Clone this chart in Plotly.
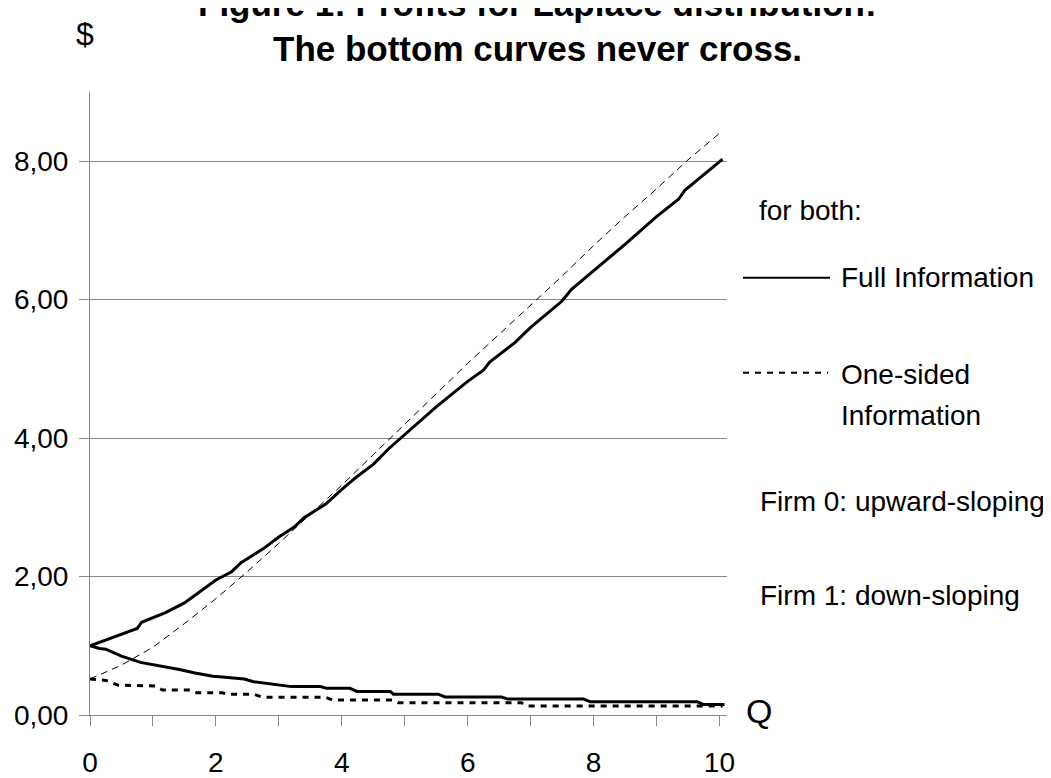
import plotly.graph_objects as go

# ---------------- data ----------------
x_ticks = [0, 1, 2, 3, 4, 5, 6, 7, 8, 9, 10]
x_tick_labels = ["0", "", "2", "", "4", "", "6", "", "8", "", "10"]
y_ticks = [0, 2, 4, 6, 8]
y_tick_labels = ["0,00", "2,00", "4,00", "6,00", "8,00"]

# Firm 0, full information (upward-sloping, solid)
firm0_full_x = [0, 0.75, 0.82, 1.2, 1.5, 1.75, 2.0, 2.25, 2.4, 2.75, 3.0, 3.25, 3.4, 3.75, 4.0,
                4.25, 4.5, 4.75, 5.0, 5.5, 6.0, 6.25, 6.35, 6.75, 7.0, 7.5, 7.65, 8.0, 8.5, 9.0,
                9.35, 9.45, 9.75, 10.05]
firm0_full_y = [1.0, 1.25, 1.34, 1.48, 1.62, 1.78, 1.95, 2.07, 2.2, 2.4, 2.57, 2.72, 2.85, 3.05, 3.26,
                3.45, 3.62, 3.85, 4.05, 4.45, 4.82, 4.98, 5.1, 5.38, 5.6, 5.98, 6.15, 6.42, 6.8, 7.2,
                7.45, 7.58, 7.8, 8.03]

# Firm 0, one-sided information (upward-sloping, thin dashed)
firm0_one_x = [0, 0.5, 1.0, 1.5, 2.0, 2.5, 3.0, 3.5, 4.0, 4.5, 5.0, 5.5, 6.0, 6.5, 7.0, 7.5, 8.0,
               8.5, 9.0, 9.5, 10.05]
firm0_one_y = [0.52, 0.72, 0.98, 1.32, 1.68, 2.07, 2.48, 2.9, 3.32, 3.76, 4.2, 4.64, 5.08, 5.5, 5.92,
               6.34, 6.78, 7.2, 7.6, 8.02, 8.44]

# Firm 1, full information (down-sloping, solid)
firm1_full_x = [0, 0.15, 0.25, 0.5, 0.8, 1.1, 1.25, 1.4, 1.65, 1.95, 2.1, 2.3, 2.45, 2.6, 2.9, 3.2,
                3.66, 3.76, 4.13, 4.24, 4.77, 4.82, 5.53, 5.64, 6.54, 6.64, 7.84, 7.95, 9.65, 9.75,
                10.08]
firm1_full_y = [1.0, 0.96, 0.95, 0.85, 0.76, 0.71, 0.69, 0.66, 0.61, 0.56, 0.55, 0.53, 0.52, 0.48, 0.45,
                0.41, 0.41, 0.385, 0.385, 0.34, 0.34, 0.30, 0.30, 0.26, 0.26, 0.23, 0.23, 0.19, 0.19,
                0.15, 0.15]

# Firm 1, one-sided information (down-sloping, dotted)
firm1_one_x = [0, 0.25, 0.45, 1.05, 1.15, 1.6, 1.7, 2.1, 2.2, 2.6, 2.75, 3.75, 3.85, 4.8, 4.9,
               6.85, 6.95, 10.05]
firm1_one_y = [0.52, 0.50, 0.43, 0.42, 0.36, 0.36, 0.32, 0.32, 0.30, 0.30, 0.255, 0.255, 0.215, 0.215,
               0.178, 0.178, 0.13, 0.13]

title_line1 = "Figure 1: Profits for Laplace distribution:"
title_line2 = "The bottom curves never cross."
legend_texts = ["for both:", "Full Information", "One-sided", "Information",
                "Firm 0: upward-sloping", "Firm 1: down-sloping"]

# ---------------- figure ----------------
FONT = "Liberation Sans, Arial, sans-serif"
OFF = 8                      # page body margin offset
PL, PR, PT, PB = 90, 727, 92, 715   # plot area in page pixels
W, H = 1051 - OFF, 778 - OFF


def px(x):
    return (x - PL) / (PR - PL)


def py(y):
    return (PB - y) / (PB - PT)


fig = go.Figure()
fig.add_trace(go.Scatter(x=firm0_one_x, y=firm0_one_y, mode="lines",
                         line=dict(color="black", width=1, dash="7px,5px"), showlegend=False))
fig.add_trace(go.Scatter(x=firm0_full_x, y=firm0_full_y, mode="lines",
                         line=dict(color="black", width=3), showlegend=False))
fig.add_trace(go.Scatter(x=firm1_one_x, y=firm1_one_y, mode="lines",
                         line=dict(color="black", width=3, dash="6px,6px"), showlegend=False))
fig.add_trace(go.Scatter(x=firm1_full_x, y=firm1_full_y, mode="lines",
                         line=dict(color="black", width=3), showlegend=False))

grid = "#868686"
fig.update_xaxes(range=[0, 10.12], tickmode="array", tickvals=x_ticks, ticktext=x_tick_labels,
                 showgrid=False, zeroline=False, showline=True, linecolor=grid, linewidth=1,
                 ticks="outside", ticklen=10, tickcolor=grid, tickwidth=1, automargin=False,
                 tickfont=dict(family=FONT, size=28, color="black"), ticklabelstandoff=12)
fig.update_yaxes(range=[0, 9], tickmode="array", tickvals=y_ticks, ticktext=y_tick_labels,
                 showgrid=True, gridcolor=grid, gridwidth=1, zeroline=False,
                 showline=True, linecolor=grid, linewidth=1, automargin=False,
                 ticks="outside", ticklen=10, tickcolor=grid, tickwidth=1,
                 tickfont=dict(family=FONT, size=28, color="black"), ticklabelstandoff=5)

ann = []
ann.append(dict(text="<b>" + title_line1 + "</b>", x=px(537), y=py(3), font=dict(size=35),
                xanchor="center", yanchor="middle"))
ann.append(dict(text="<b>" + title_line2 + "</b>", x=px(537), y=py(48), font=dict(size=35),
                xanchor="center", yanchor="middle"))
ann.append(dict(text="$", x=px(85), y=py(34), font=dict(size=32), xanchor="center", yanchor="middle"))
ann.append(dict(text="Q", x=px(759), y=py(711), font=dict(size=34), xanchor="center", yanchor="middle"))
leg_pos = [(757, 210), (839, 277), (839, 374), (839, 415), (758, 501), (758, 595)]
for t, (lx, ly) in zip(legend_texts, leg_pos):
    ann.append(dict(text=t, x=px(lx), y=py(ly), font=dict(size=28), xanchor="left", yanchor="middle"))
for a in ann:
    a.update(xref="paper", yref="paper", showarrow=False)
    a["font"].update(family=FONT, color="black")

fig.update_layout(
    width=W, height=H,
    margin=dict(l=PL - OFF, r=W - (PR - OFF), t=PT - OFF, b=H - (PB - OFF), pad=0),
    paper_bgcolor="white", plot_bgcolor="white", showlegend=False,
    annotations=ann,
    shapes=[
        dict(type="line", xref="paper", yref="paper", x0=px(743), x1=px(830), y0=py(277.7), y1=py(277.7),
             line=dict(color="black", width=2)),
        dict(type="line", xref="paper", yref="paper", x0=px(743), x1=px(828), y0=py(372.7), y1=py(372.7),
             line=dict(color="black", width=2, dash="6px,6px")),
    ],
)

fig.write_html("out.html")
